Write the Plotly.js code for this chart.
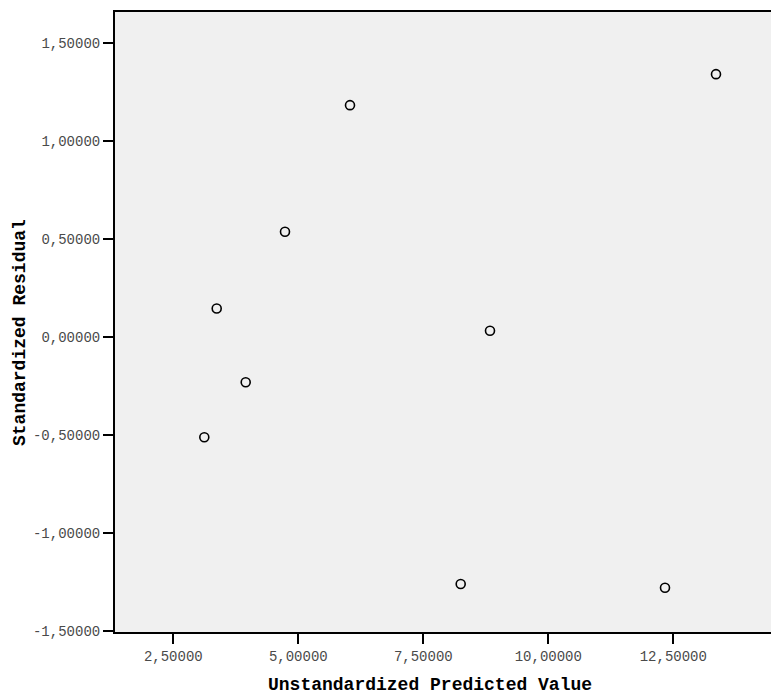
<!DOCTYPE html>
<html>
<head>
<meta charset="utf-8">
<script src="https://cdn.plot.ly/plotly-3.0.1.min.js"></script>
<style>html,body{margin:0;padding:0;background:#fff;}#chart{width:771px;height:698px;}</style>
</head>
<body>
<div id="chart"></div>
<script>
const predictedValue = [3.12, 3.368, 3.948, 4.734, 6.034, 8.834, 8.248, 12.334, 13.354];
const standardizedResidual = [-0.512, 0.145, -0.231, 0.536, 1.182, 0.031, -1.260, -1.279, 1.340];

const xTickVals = [2.5, 5, 7.5, 10, 12.5];
const xTickText = ["2,50000", "5,00000", "7,50000", "10,00000", "12,50000"];
const yTickVals = [-1.5, -1, -0.5, 0, 0.5, 1, 1.5];
const yTickText = ["-1,50000", "-1,00000", "-0,50000", "0,00000", "0,50000", "1,00000", "1,50000"];

const xTitle = "Unstandardized Predicted Value";
const yTitle = "Standardized Residual";

const tickFont = {family: "Liberation Mono, Courier New, monospace", size: 14, color: "#4a4a4a"};
const titleFont = {family: "Liberation Mono, Courier New, monospace", size: 18, color: "#000", weight: "bold"};

const W = 771, H = 698;
const M = {l: 115, r: 0, t: 12, b: 66};

const trace = {
  x: predictedValue,
  y: standardizedResidual,
  type: "scatter",
  mode: "markers",
  marker: {symbol: "circle-open", size: 9, color: "#000", line: {width: 1.6, color: "#000"}},
  hoverinfo: "skip"
};

// paper coords for titles (relative to plot area)
const pw = W - M.l - M.r, ph = H - M.t - M.b;
const xTitleX = (430 - M.l) / pw;
const yTitleY = (H - M.b - 333) / ph;

const layout = {
  width: W, height: H,
  margin: M,
  paper_bgcolor: "#ffffff",
  plot_bgcolor: "#f0f0f0",
  showlegend: false,
  xaxis: {
    range: [1.334, 14.454],
    tickvals: xTickVals, ticktext: xTickText,
    ticks: "outside", ticklen: 10, tickwidth: 2, tickcolor: "#000",
    showline: true, linecolor: "#000", linewidth: 2, mirror: true,
    showgrid: false, zeroline: false,
    tickfont: tickFont,
    automargin: false
  },
  yaxis: {
    range: [-1.505, 1.657],
    tickvals: yTickVals, ticktext: yTickText,
    ticks: "outside", ticklen: 10, tickwidth: 2, tickcolor: "#000",
    showline: true, linecolor: "#000", linewidth: 2,
    showgrid: false, zeroline: false,
    tickfont: tickFont,
    automargin: false
  },
  annotations: [
    {text: xTitle, xref: "paper", yref: "paper", x: xTitleX, y: -(685 - (H - M.b)) / ph,
     xanchor: "center", yanchor: "middle", showarrow: false, font: titleFont},
    {text: yTitle, xref: "paper", yref: "paper", x: -(M.l - 20) / pw, y: yTitleY,
     xanchor: "center", yanchor: "middle", showarrow: false, textangle: -90, font: titleFont}
  ]
};

Plotly.newPlot("chart", [trace], layout, {displayModeBar: false, staticPlot: true});
</script>
</body>
</html>
